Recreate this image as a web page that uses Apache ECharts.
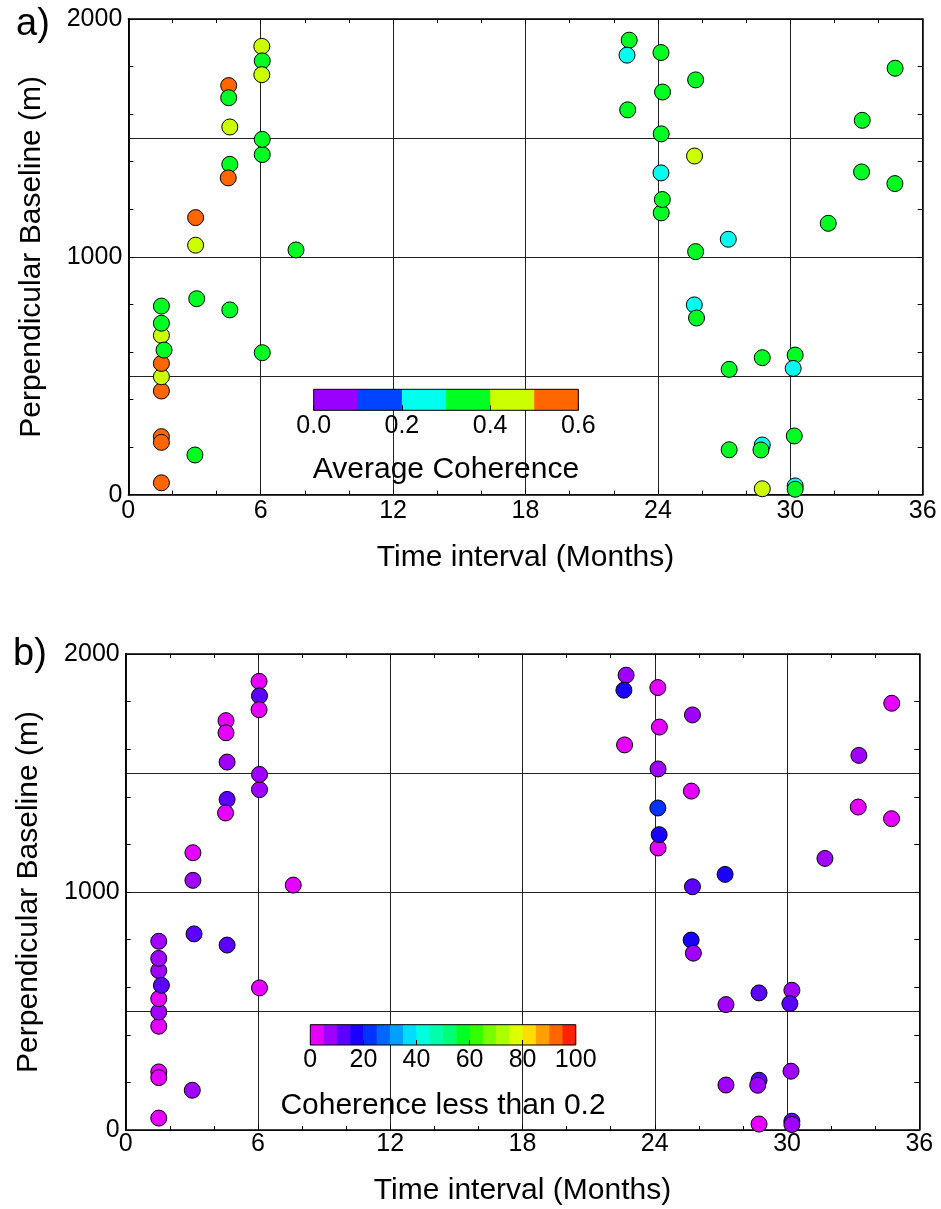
<!DOCTYPE html>
<html>
<head>
<meta charset="utf-8">
<script src="https://cdn.jsdelivr.net/npm/echarts@6/dist/echarts.min.js"></script>
<style>
  html, body { margin: 0; padding: 0; background: #fff; }
  #chart { width: 941px; height: 1209px; }
</style>
</head>
<body>
<div id="chart"></div>
<script>
// interferogram pairs, listed in drawing order (later ones sit on top)
const months = [
  1.5, 1.5, 1.5, 3.02, 1.5, 1.5, 1.5, 1.5, 1.5, 1.5, 1.62,
  3.1, 4.6, 6.07, 7.6, 3.05, 3.05, 4.6, 4.53, 4.6, 4.55, 4.55,
  6.07, 6.07, 6.05, 6.07, 6.05,
  22.7, 22.6, 24.14, 25.71, 24.21, 22.63, 24.15, 25.66, 24.14, 24.15, 24.2,
  27.19, 25.71, 31.72, 33.23, 34.74, 33.26, 34.75,
  25.65, 25.75, 27.23, 28.73, 30.22, 30.13, 30.18, 27.23, 28.73, 28.67,
  28.73, 30.22, 30.22
]
const baseline = [
  50, 244, 220, 167, 436, 496, 552, 670, 721, 793, 608,
  824, 777, 597, 1029, 1049, 1165, 1389, 1332, 1546, 1720, 1669,
  1430, 1494, 1885, 1824, 1766,
  1911, 1848, 1859, 1744, 1693, 1618, 1517, 1424, 1353, 1185, 1241,
  1074, 1022, 1141, 1357, 1308, 1574, 1793,
  798, 743, 527, 576, 587, 531, 247, 189, 209, 188,
  25, 37, 23
]
// panel a: average coherence
const avgCoherence = [
  0.55, 0.55, 0.55, 0.35, 0.55, 0.45, 0.55, 0.45, 0.35, 0.35, 0.35,
  0.35, 0.35, 0.35, 0.35, 0.45, 0.55, 0.35, 0.55, 0.45, 0.55, 0.35,
  0.35, 0.35, 0.45, 0.35, 0.45,
  0.35, 0.25, 0.35, 0.35, 0.35, 0.35, 0.35, 0.45, 0.25, 0.35, 0.35,
  0.25, 0.35, 0.35, 0.35, 0.35, 0.35, 0.35,
  0.25, 0.35, 0.35, 0.35, 0.35, 0.25, 0.35, 0.35, 0.25, 0.35,
  0.45, 0.25, 0.35
]
// panel b: percent of pixels with coherence < 0.2
const lowCohPct = [
  3, 3, 3, 8, 3, 8, 3, 8, 8, 8, 13,
  13, 13, 3, 3, 8, 3, 13, 3, 8, 3, 3,
  8, 8, 3, 13, 3,
  8, 18, 3, 8, 3, 3, 8, 3, 23, 3, 18,
  18, 13, 8, 3, 3, 8, 3,
  18, 8, 8, 13, 8, 13, 8, 8, 13, 8,
  3, 13, 8
]

const yLabels = [0, 1000, 2000]
const cohBins = [0, 0.1, 0.2, 0.3, 0.4, 0.5, 0.6]
const cohColors = ['#9900ff', '#0044ff', '#00ffee', '#00ff22', '#ccff00', '#ff6600']
const pctBins = [0, 5, 10, 15, 20, 25, 30, 35, 40, 45, 50, 55, 60, 65, 70, 75, 80, 85, 90, 95, 100]
const pctColors = [
  '#e600ff', '#a000ff', '#5c00ff', '#1a00ff', '#0033ff', '#0066ff', '#00a0ff', '#00ddff', '#00ffdd', '#00ffaa',
  '#00ff77', '#00ff22', '#33ff00', '#77ff00', '#aaff00', '#ddff00', '#ffdd00', '#ffa000', '#ff6600', '#ff2200'
]

const FONT = '"Liberation Sans", Arial, Helvetica, sans-serif'
const BLACK = '#000'
const TICK_FONT = 25

function xMain(grid, pos, nameGap, margin) {
  const bottom = pos === 'bottom'
  return {
    gridIndex: grid, type: 'value', position: pos, min: 0, max: 36, interval: 6,
    axisLine: { show: true, onZero: false, lineStyle: { color: BLACK, width: 1.5 } },
    axisTick: { show: true, inside: true, length: 5, lineStyle: { color: BLACK } },
    minorTick: { show: true, splitNumber: 3, length: 4, lineStyle: { color: BLACK } },
    axisLabel: { show: bottom, color: BLACK, fontSize: TICK_FONT, fontFamily: FONT, margin: margin, showMinLabel: true, showMaxLabel: true },
    splitLine: { show: bottom, lineStyle: { color: '#222', width: 1 } },
    name: bottom ? 'Time interval (Months)' : '',
    nameLocation: 'middle', nameGap: nameGap,
    nameTextStyle: { color: BLACK, fontSize: 30, fontFamily: FONT }
  }
}

function yMainLabeled(grid) {
  return {
    gridIndex: grid, type: 'value', position: 'left', min: 0, max: 2000, interval: 500,
    axisLine: { show: true, onZero: false, lineStyle: { color: BLACK, width: 1.5 } },
    axisTick: { show: false },
    axisLabel: {
      color: BLACK, fontSize: TICK_FONT, fontFamily: FONT, margin: 6, showMinLabel: true, showMaxLabel: true,
      formatter: v => yLabels.includes(v) ? String(v) : ''
    },
    splitLine: { show: true, lineStyle: { color: '#222', width: 1 } },
    name: 'Perpendicular Baseline (m)', nameLocation: 'middle', nameGap: 82,
    nameTextStyle: { color: BLACK, fontSize: 30, fontFamily: FONT }
  }
}

function yMainTicks(grid, pos) {
  return {
    gridIndex: grid, type: 'value', position: pos, min: 0, max: 2000, interval: 200,
    axisLine: { show: true, onZero: false, lineStyle: { color: BLACK, width: 1.5 } },
    axisTick: { show: true, inside: true, length: 5, lineStyle: { color: BLACK } },
    axisLabel: { show: false },
    splitLine: { show: false }
  }
}

function xBar(grid, max, interval, nameText, nameGap, fmt) {
  return {
    gridIndex: grid, type: 'value', position: 'bottom', min: 0, max: max, interval: interval, z: 8,
    axisLine: { show: false },
    axisTick: { show: true, inside: true, length: 5, lineStyle: { color: BLACK } },
    axisLabel: { color: BLACK, fontSize: TICK_FONT, fontFamily: FONT, margin: 3, formatter: fmt, showMinLabel: true, showMaxLabel: true },
    splitLine: { show: false },
    name: nameText, nameLocation: 'middle', nameGap: nameGap,
    nameTextStyle: { color: BLACK, fontSize: 30, fontFamily: FONT }
  }
}

function yBar(grid) {
  return {
    gridIndex: grid, type: 'value', min: 0, max: 1,
    axisLine: { show: false }, axisTick: { show: false }, axisLabel: { show: false }, splitLine: { show: false }
  }
}

function renderBin(params, api) {
  const p0 = api.coord([api.value(0), 1])
  const p1 = api.coord([api.value(1), 0])
  return {
    type: 'rect',
    shape: { x: p0[0], y: p0[1], width: p1[0] - p0[0] + 0.5, height: p1[1] - p0[1] },
    style: { fill: api.visual('color') }
  }
}

function binData(bins, colors) {
  return colors.map((c, i) => ({ value: [bins[i], bins[i + 1]], itemStyle: { color: c } }))
}

function pieces(bins, colors) {
  return colors.map((c, i) => ({ gte: bins[i], lt: bins[i + 1], color: c }))
}

const points = months.map((m, i) => [m, baseline[i], avgCoherence[i]])
const pointsB = months.map((m, i) => [m, baseline[i], lowCohPct[i]])

const chart = echarts.init(document.getElementById('chart'), null, { renderer: 'canvas' })

chart.setOption({
  animation: false,
  backgroundColor: '#fff',
  title: [
    { text: 'a)', left: 16, top: 6, padding: 0, textStyle: { fontSize: 38, fontWeight: 'normal', fontFamily: FONT, color: BLACK } },
    { text: 'b)', left: 13, top: 636, padding: 0, textStyle: { fontSize: 38, fontWeight: 'normal', fontFamily: FONT, color: BLACK } }
  ],
  grid: [
    { left: 128.3, top: 19, width: 794.4, height: 475.7, outerBoundsMode: 'none' },
    { left: 125.7, top: 654, width: 793.6, height: 476, outerBoundsMode: 'none' },
    { left: 313.7, top: 389.3, width: 264.6, height: 21, show: true, z: 9, borderColor: BLACK, borderWidth: 1, backgroundColor: 'transparent', outerBoundsMode: 'none' },
    { left: 310.3, top: 1024.7, width: 265.4, height: 20.3, show: true, z: 9, borderColor: BLACK, borderWidth: 1, backgroundColor: 'transparent', outerBoundsMode: 'none' }
  ],
  xAxis: [
    xMain(0, 'bottom', 48, 4),
    xMain(0, 'top', 0, 4),
    xMain(1, 'bottom', 46, 2),
    xMain(1, 'top', 0, 2),
    xBar(2, 0.6, 0.2, 'Average Coherence', 44, v => v.toFixed(1)),
    xBar(3, 100, 20, 'Coherence less than 0.2', 46, v => String(Math.round(v)))
  ],
  yAxis: [
    yMainLabeled(0),
    yMainTicks(0, 'left'),
    yMainTicks(0, 'right'),
    yMainLabeled(1),
    yMainTicks(1, 'left'),
    yMainTicks(1, 'right'),
    yBar(2),
    yBar(3)
  ],
  visualMap: [
    { type: 'piecewise', show: false, seriesIndex: 0, dimension: 2, pieces: pieces(cohBins, cohColors) },
    { type: 'piecewise', show: false, seriesIndex: 1, dimension: 2, pieces: pieces(pctBins, pctColors) }
  ],
  series: [
    {
      type: 'scatter', xAxisIndex: 0, yAxisIndex: 0, data: points, symbolSize: 16, z: 3,
      itemStyle: { borderColor: BLACK, borderWidth: 1, opacity: 1 }
    },
    {
      type: 'scatter', xAxisIndex: 2, yAxisIndex: 3, data: pointsB, symbolSize: 16, z: 3,
      itemStyle: { borderColor: BLACK, borderWidth: 1, opacity: 1 }
    },
    { type: 'custom', xAxisIndex: 4, yAxisIndex: 6, renderItem: renderBin, data: binData(cohBins, cohColors), z: 4 },
    { type: 'custom', xAxisIndex: 5, yAxisIndex: 7, renderItem: renderBin, data: binData(pctBins, pctColors), z: 4 }
  ]
})
</script>
</body>
</html>
